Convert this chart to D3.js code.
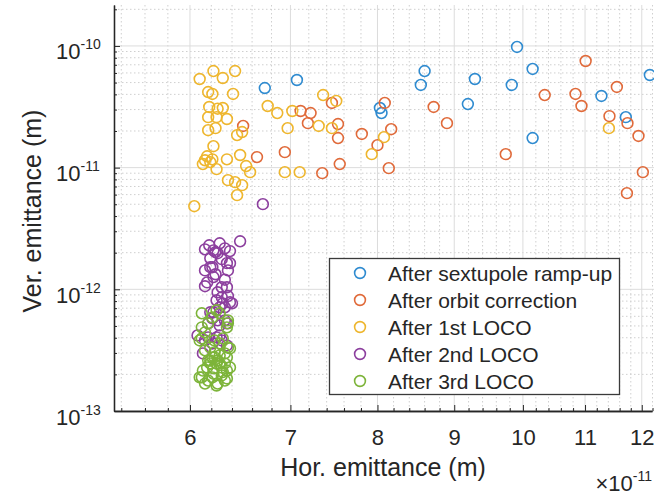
<!DOCTYPE html>
<html>
<head>
<meta charset="utf-8">
<script src="https://cdn.jsdelivr.net/npm/d3@7"></script>
<style>
  html, body { margin: 0; padding: 0; background: #fff; }
  svg { display: block; font-family: "Liberation Sans", Arial, Helvetica, sans-serif; }
</style>
</head>
<body>
<svg id="chart" width="654" height="497"></svg>
<script>
// ---------------- data ----------------
const seriesNames = ["After sextupole ramp-up", "After orbit correction", "After 1st LOCO", "After 2nd LOCO", "After 3rd LOCO"];
const seriesColors = ["#2f8bd0", "#e06a3a", "#eeb62e", "#8c3f9e", "#7db43a"];

// x in units of 1e-11 m; y in units given by seriesYUnits
const sextX = [6.73, 7.07, 8.03, 8.05, 8.60, 8.55, 9.29, 9.19, 9.91, 9.83, 10.15, 10.15, 11.28, 11.71, 12.15];
const sextY = [4.51, 5.25, 3.09, 2.81, 6.22, 4.78, 5.35, 3.33, 9.81, 4.78, 6.47, 1.75, 3.88, 2.60, 5.77];

const orbitX = [6.51, 6.65, 6.94, 7.11, 7.22, 7.19, 7.35, 7.46, 7.53, 7.53, 7.55, 7.81, 8.00, 8.09, 8.17, 8.14, 8.72, 8.90, 9.74, 10.34, 10.84, 10.94, 11.01, 11.55, 11.42, 11.74, 11.94, 12.02, 11.73];
const orbitY = [2.20, 1.22, 1.34, 2.92, 2.81, 2.32, 0.901, 3.40, 2.28, 1.75, 1.07, 1.89, 1.53, 3.40, 2.07, 0.99, 3.15, 2.32, 1.29, 3.95, 4.03, 3.21, 7.52, 4.60, 2.65, 2.32, 1.82, 0.918, 0.617];

const loco1X = [6.09, 6.22, 6.31, 6.43, 6.17, 6.21, 6.41, 6.18, 6.31, 6.17, 6.25, 6.35, 6.17, 6.24, 6.45, 6.50, 6.22, 6.16, 6.12, 6.21, 6.25, 6.35, 6.48, 6.54, 6.58, 6.36, 6.43, 6.50, 6.45, 6.04, 6.76, 6.86, 6.97, 7.02, 6.94, 7.10, 7.36, 7.31, 7.46, 7.51, 7.93, 8.08, 11.41, 6.14, 6.19, 6.26];
const loco1Y = [5.35, 6.22, 5.45, 6.22, 4.18, 4.03, 4.03, 3.15, 3.09, 2.60, 2.60, 2.51, 2.03, 2.11, 1.85, 1.96, 1.50, 1.24, 1.07, 1.17, 0.972, 1.17, 1.27, 1.03, 0.918, 0.789, 0.760, 0.718, 0.594, 0.482, 3.21, 2.81, 2.11, 2.92, 0.918, 0.918, 3.95, 2.20, 2.11, 3.53, 1.29, 1.78, 2.11, 1.15, 1.11, 3.05];

const loco2X = [6.48, 6.28, 6.18, 6.14, 6.24, 6.38, 6.30, 6.38, 6.36, 6.14, 6.21, 6.24, 6.22, 6.16, 6.14, 6.35, 6.26, 6.36, 6.25, 6.40, 6.31, 6.28, 6.22, 6.21, 6.26, 6.17, 6.35, 6.28, 6.07, 6.25, 6.21, 6.12, 6.28, 6.33, 6.19, 6.71,
  6.26, 6.33, 6.22, 6.35, 6.19, 6.30, 6.30, 6.38, 6.33, 6.19, 6.33, 6.17, 6.30, 6.35, 6.14];
const loco2Y = [2.48, 2.39, 2.30, 2.13, 2.02, 2.06, 1.77, 1.64, 1.43, 1.43, 1.52, 1.33, 1.26, 1.14, 1.06, 1.04, 0.945, 0.88, 0.812, 0.767, 0.767, 0.711, 0.647, 0.577, 0.556, 0.525, 0.525, 0.505, 0.418, 0.403, 0.359, 0.297, 0.418, 1.20, 1.80, 5.01,
  1.98, 2.17, 2.09, 1.64, 1.52, 1.04, 0.86, 0.782, 0.711, 0.647, 0.556, 0.403, 0.380, 0.346, 0.380];

const loco3X = [6.11, 6.21, 6.28, 6.35, 6.14, 6.11, 6.19, 6.28, 6.38, 6.23, 6.17, 6.26, 6.35, 6.38, 6.16, 6.22, 6.30, 6.11, 6.21, 6.30, 6.14, 6.25, 6.33, 6.09, 6.23, 6.31, 6.36, 6.21, 6.25, 6.19, 6.33, 6.28, 6.35, 6.22, 6.17, 6.09, 6.25, 6.17, 6.11, 6.36,
  6.14, 6.23, 6.33, 6.12, 6.31, 6.35, 6.19, 6.28, 6.36, 6.26];
const loco3Y = [0.635, 0.588, 0.635, 0.487, 0.443, 0.395, 0.333, 0.359, 0.327, 0.303, 0.260, 0.260, 0.276, 0.228, 0.228, 0.224, 0.228, 0.189, 0.189, 0.196, 0.168, 0.162, 0.178, 0.380, 0.380, 0.395, 0.333, 0.276, 0.246, 0.246, 0.246, 0.286, 0.215, 0.203, 0.178, 0.189, 0.672, 0.525, 0.487, 0.525,
  0.315, 0.276, 0.297, 0.215, 0.209, 0.185, 0.260, 0.246, 0.556, 0.168];

const xUnit = 1e-11;
const seriesYUnits = [1e-11, 1e-11, 1e-11, 1e-12, 1e-12];

const xTickValues = [6, 7, 8, 9, 10, 11, 12];
const xTickLabels = ["6", "7", "8", "9", "10", "11", "12"];
const yTickValues = [1e-13, 1e-12, 1e-11, 1e-10];
const yTickExponents = ["-13", "-12", "-11", "-10"];

const xLabel = "Hor. emittance (m)";
const yLabel = "Ver. emittance (m)";
const xExponentLabel = "-11";

// ---------------- layout ----------------
const svg = d3.select("#chart");
const L = 114, R = 652, T = 5, B = 411;

const xs = d3.scaleLog().domain([5.34e-11, 12.19e-11]).range([L, R]);
const ys = d3.scaleLog().domain([1e-13, 2.17e-10]).range([B, T]);

const axisColor = "#262626";

const xMinor = d3.range(54, 123, 2).map(v => v / 10).filter(v => !xTickValues.includes(v)).map(v => v * xUnit);
const yMinor = [];
[-13, -12, -11, -10].forEach(e => { for (let m = 2; m <= 9; m++) { const v = m * Math.pow(10, e); if (v <= 2.17e-10) yMinor.push(v); } });

const grid = svg.append("g");
grid.selectAll(".xmg").data(xMinor).enter().append("line")
  .attr("x1", d => xs(d)).attr("x2", d => xs(d)).attr("y1", T).attr("y2", B)
  .attr("stroke", "#cfcfcf").attr("stroke-width", 1).attr("stroke-dasharray", "1.5,2.5");
grid.selectAll(".ymg").data(yMinor).enter().append("line")
  .attr("y1", d => ys(d)).attr("y2", d => ys(d)).attr("x1", L).attr("x2", 654)
  .attr("stroke", "#cfcfcf").attr("stroke-width", 1).attr("stroke-dasharray", "1.5,2.5");
grid.selectAll(".xg").data(xTickValues).enter().append("line")
  .attr("x1", d => xs(d * xUnit)).attr("x2", d => xs(d * xUnit)).attr("y1", T).attr("y2", B)
  .attr("stroke", "#dcdcdc").attr("stroke-width", 1);
grid.selectAll(".yg").data(yTickValues).enter().append("line")
  .attr("y1", d => ys(d)).attr("y2", d => ys(d)).attr("x1", L).attr("x2", 654)
  .attr("stroke", "#dcdcdc").attr("stroke-width", 1);

// ---------------- points ----------------
svg.append("clipPath").attr("id", "clip").append("rect")
  .attr("x", L).attr("y", T - 6).attr("width", 654 - L).attr("height", B - T + 6);

const allSeries = [
  [sextX, sextY], [orbitX, orbitY], [loco1X, loco1Y], [loco2X, loco2Y], [loco3X, loco3Y]
];
const pts = svg.append("g").attr("clip-path", "url(#clip)");
allSeries.forEach(([xa, ya], i) => {
  const data = xa.map((x, k) => ({ x: x * xUnit, y: ya[k] * seriesYUnits[i] }));
  pts.append("g").selectAll("circle").data(data).enter().append("circle")
    .attr("cx", d => xs(d.x)).attr("cy", d => ys(d.y)).attr("r", 5.4)
    .attr("fill", "none").attr("stroke", seriesColors[i]).attr("stroke-width", 1.6);
});

// ---------------- axes ----------------
const xAxisMinor = svg.append("g").attr("transform", `translate(0,${B})`)
  .call(d3.axisBottom(xs).tickValues(xMinor).tickSize(-3).tickSizeOuter(0).tickFormat(""));
const xAxis = svg.append("g").attr("transform", `translate(0,${B})`)
  .call(d3.axisBottom(xs).tickValues(xTickValues.map(v => v * xUnit)).tickSize(-6).tickSizeOuter(0)
    .tickPadding(18).tickFormat((d, i) => xTickLabels[i]));
xAxis.selectAll("text").attr("font-size", 22).attr("fill", axisColor);

const yAxisMinor = svg.append("g").attr("transform", `translate(${L},0)`)
  .call(d3.axisLeft(ys).tickValues(yMinor).tickSize(-3).tickSizeOuter(0).tickFormat(""));
const yAxis = svg.append("g").attr("transform", `translate(${L},0)`)
  .call(d3.axisLeft(ys).tickValues(yTickValues).tickSize(-6).tickSizeOuter(0).tickFormat(""));
yAxis.selectAll(".tick").each(function (d, i) {
  const t = d3.select(this).append("text")
    .attr("x", -58).attr("y", 13).attr("text-anchor", "start")
    .attr("fill", axisColor).attr("font-size", 22).style("font-family", "inherit");
  t.append("tspan").text("10");
  t.append("tspan").attr("font-size", 14).attr("dy", -10).text(yTickExponents[i]);
});

[xAxisMinor, xAxis, yAxisMinor, yAxis].forEach(g => {
  g.selectAll("path.domain").attr("stroke", axisColor).attr("stroke-width", 1.3);
  g.selectAll(".tick line").attr("stroke", axisColor).attr("stroke-width", 1);
});

svg.append("text").attr("x", 383).attr("y", 476).attr("text-anchor", "middle")
  .attr("font-size", 25).attr("fill", axisColor).text(xLabel);
svg.append("text").attr("transform", "translate(32,211) rotate(-90)").attr("text-anchor", "middle")
  .attr("dy", "0.35em").attr("font-size", 25).attr("fill", axisColor).text(yLabel);

const xe = svg.append("text").attr("x", 652).attr("y", 491).attr("text-anchor", "end")
  .attr("font-size", 22).attr("fill", axisColor);
xe.append("tspan").text("\u00d710");
xe.append("tspan").attr("font-size", 14).attr("dy", -10).text(xExponentLabel);

// ---------------- legend ----------------
const lg = svg.append("g");
lg.append("rect").attr("x", 329.5).attr("y", 258.5).attr("width", 290).attr("height", 136)
  .attr("fill", "#fff").attr("stroke", "#3a3a3a").attr("stroke-width", 1.3);
seriesNames.forEach((name, i) => {
  const yy = 273 + i * 27;
  lg.append("circle").attr("cx", 360).attr("cy", yy).attr("r", 5.4)
    .attr("fill", "none").attr("stroke", seriesColors[i]).attr("stroke-width", 1.6);
  lg.append("text").attr("x", 388).attr("y", yy).attr("dy", "0.36em")
    .attr("font-size", 21).attr("fill", axisColor).text(name);
});
</script>
</body>
</html>
